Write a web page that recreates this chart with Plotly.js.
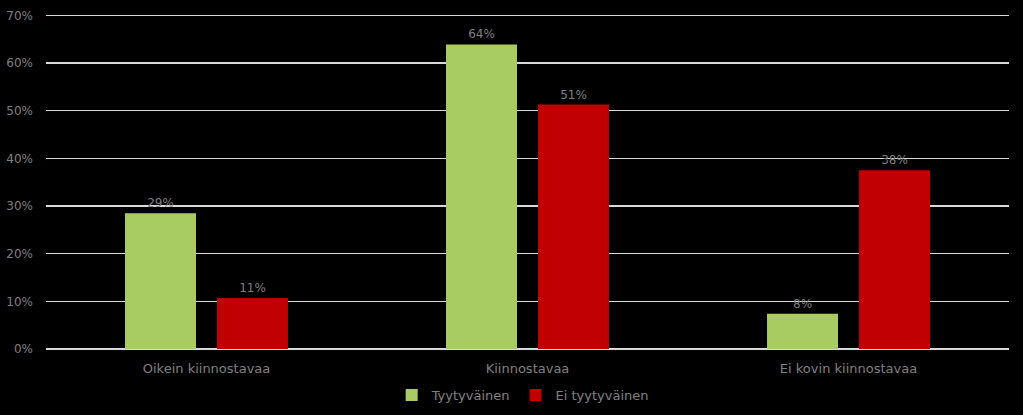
<!DOCTYPE html>
<html>
<head>
<meta charset="utf-8">
<script src="https://cdn.plot.ly/plotly-3.0.1.min.js"></script>
<style>html,body{margin:0;padding:0;background:#000;}#chart{width:1023px;height:415px;}</style>
</head>
<body>
<div id="chart"></div>
<script>
var categories = ["Oikein kiinnostavaa", "Kiinnostavaa", "Ei kovin kiinnostavaa"];
var seriesNames = ["Tyytyväinen", "Ei tyytyväinen"];
var satisfied = [0.285, 0.639, 0.074];
var unsatisfied = [0.107, 0.513, 0.375];
var satisfiedLabels = ["29%", "64%", "8%"];
var unsatisfiedLabels = ["11%", "51%", "38%"];
var tickVals = [0, 0.1, 0.2, 0.3, 0.4, 0.5, 0.6, 0.7];
var tickText = ["0%", "10%", "20%", "30%", "40%", "50%", "60%", "70%"];

var fontFam = "Tahoma, 'DejaVu Sans', sans-serif";
var traces = [
  {type: "bar", name: seriesNames[0], x: categories, y: satisfied, text: satisfiedLabels,
   textposition: "outside", cliponaxis: false, textfont: {color: "#7f7f7f", size: 12, family: fontFam},
   marker: {color: "#a9cc62"}, hoverinfo: "none"},
  {type: "bar", name: seriesNames[1], x: categories, y: unsatisfied, text: unsatisfiedLabels,
   textposition: "outside", cliponaxis: false, textfont: {color: "#7f7f7f", size: 12, family: fontFam},
   marker: {color: "#c00000"}, hoverinfo: "none"}
];
var layout = {
  width: 1023, height: 415,
  paper_bgcolor: "#000", plot_bgcolor: "#000",
  margin: {l: 46, r: 14, t: 13, b: 66},
  barmode: "group", bargap: 0.427, bargroupgap: 0.228,
  font: {family: fontFam, color: "#808080", size: 12},
  xaxis: {tickfont: {size: 13, color: "#808080"}, showgrid: false, zeroline: false, showline: false,
          ticks: "", ticklabelstandoff: 10},
  yaxis: {range: [0, 0.705], tickvals: tickVals, ticktext: tickText, showgrid: true, gridcolor: "#d9d9d9",
          gridwidth: 1.5, zeroline: true, zerolinecolor: "#d9d9d9", zerolinewidth: 1.5, showline: false,
          ticks: "", ticklabelstandoff: 12, tickfont: {size: 12, color: "#808080"}},
  showlegend: true,
  legend: {orientation: "h", x: 0.495, xanchor: "center", yref: "container", y: 0.048, yanchor: "middle",
           font: {size: 13, color: "#808080"}, bgcolor: "rgba(0,0,0,0)", itemwidth: 30}
};
Plotly.newPlot("chart", traces, layout, {displayModeBar: false, staticPlot: true});
</script>
</body>
</html>
